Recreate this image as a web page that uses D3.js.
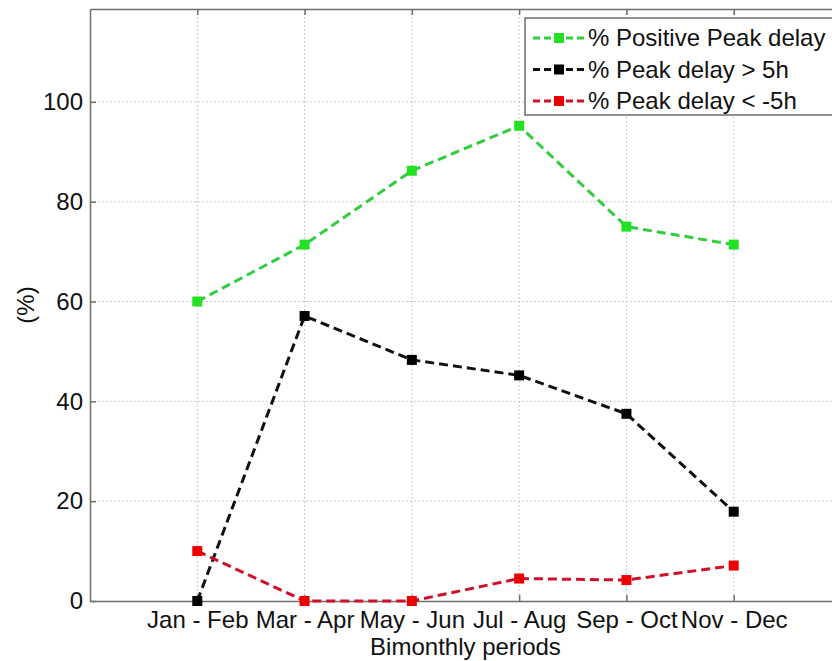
<!DOCTYPE html>
<html>
<head>
<meta charset="UTF-8" />
<script src="https://cdn.jsdelivr.net/npm/d3@7"></script>
<style>
  body { margin: 0; background: #fff; }
  svg { display: block; font-family: "Liberation Sans", Arial, sans-serif; }
  .grid line { stroke: #b8b8b8; stroke-width: 1; stroke-dasharray: 1.5 2.5; }
  .axis path, .axis line { stroke: #6e6e6e; stroke-width: 1.5; }
  .axis text { fill: #111; font-size: 24px; }
</style>
</head>
<body>
<svg width="832" height="661"></svg>
<script>
const periods = ['Jan - Feb', 'Mar - Apr', 'May - Jun', 'Jul - Aug', 'Sep - Oct', 'Nov - Dec'];
const positiveDelay = [60, 71.4, 86.2, 95.2, 75, 71.4];
const delayOver5h = [0, 57.1, 48.3, 45.2, 37.5, 17.9];
const delayUnderMinus5h = [10, 0, 0, 4.5, 4.2, 7.1];
const yTicks = [0, 20, 40, 60, 80, 100];

const series = [
  { name: '% Positive Peak delay', values: positiveDelay, color: '#22e022', line: '#33cc40' },
  { name: '% Peak delay > 5h', values: delayOver5h, color: '#000', line: '#111' },
  { name: '% Peak delay < -5h', values: delayUnderMinus5h, color: '#ee0000', line: '#d0102a' }
];

const svg = d3.select('svg');
const plotLeft = 90, plotRight = 841, plotTop = 9, plotBottom = 601;

const x = d3.scaleLinear().domain([0, periods.length + 1]).range([plotLeft, plotRight]);
const y = d3.scaleLinear().domain([0, 118.6]).range([plotBottom, plotTop]);
const idx = d3.range(1, periods.length + 1);

// grid
const grid = svg.append('g').attr('class', 'grid');
grid.selectAll('.v').data(idx).enter().append('line')
  .attr('x1', d => x(d)).attr('x2', d => x(d)).attr('y1', plotTop).attr('y2', plotBottom);
grid.selectAll('.h').data(yTicks.slice(1)).enter().append('line')
  .attr('x1', plotLeft).attr('x2', plotRight).attr('y1', d => y(d)).attr('y2', d => y(d));

// axes (box)
svg.append('g').attr('class', 'axis')
  .attr('transform', `translate(0,${plotBottom})`)
  .call(d3.axisBottom(x).tickValues(idx).tickFormat(d => periods[d - 1])
    .tickSizeInner(-6).tickSizeOuter(0).tickPadding(10));
svg.append('g').attr('class', 'axis')
  .attr('transform', `translate(0,${plotTop})`)
  .call(d3.axisTop(x).tickValues(idx).tickFormat('')
    .tickSizeInner(-6).tickSizeOuter(0));
svg.append('g').attr('class', 'axis')
  .attr('transform', `translate(${plotLeft},0)`)
  .call(d3.axisLeft(y).tickValues(yTicks).tickSizeInner(-6).tickSizeOuter(0).tickPadding(7));
svg.append('g').attr('class', 'axis')
  .attr('transform', `translate(${plotRight},0)`)
  .call(d3.axisRight(y).tickValues(yTicks).tickFormat('').tickSizeInner(-6).tickSizeOuter(0));

// axis labels
svg.append('text')
  .attr('x', (plotLeft + plotRight) / 2).attr('y', 655)
  .attr('text-anchor', 'middle').attr('font-size', 24).attr('fill', '#111')
  .text('Bimonthly periods');
svg.append('text')
  .attr('transform', `translate(34,${(plotTop + plotBottom) / 2}) rotate(-90)`)
  .attr('text-anchor', 'middle').attr('font-size', 24).attr('fill', '#111')
  .text('(%)');

// lines and markers
const line = d3.line().x((d, i) => x(i + 1)).y(d => y(d));
series.forEach(s => {
  svg.append('path')
    .attr('d', line(s.values))
    .attr('fill', 'none')
    .attr('stroke', s.line)
    .attr('stroke-width', 3)
    .attr('stroke-dasharray', '9 5');
  svg.selectAll(null).data(s.values).enter().append('rect')
    .attr('x', (d, i) => x(i + 1) - 5).attr('y', d => y(d) - 5)
    .attr('width', 10).attr('height', 10)
    .attr('fill', s.color);
});

// legend
const lg = svg.append('g');
lg.append('rect')
  .attr('x', 525).attr('y', 18).attr('width', 312).attr('height', 97)
  .attr('fill', '#fff').attr('stroke', '#6e6e6e').attr('stroke-width', 1.5);
series.forEach((s, i) => {
  const cy = 38 + i * 31.5;
  lg.append('line')
    .attr('x1', 533).attr('x2', 585).attr('y1', cy).attr('y2', cy)
    .attr('stroke', s.line).attr('stroke-width', 3).attr('stroke-dasharray', '7 4');
  lg.append('rect')
    .attr('x', 554).attr('y', cy - 5).attr('width', 10).attr('height', 10)
    .attr('fill', s.color);
  lg.append('text')
    .attr('x', 588).attr('y', cy + 8)
    .attr('font-size', 24).attr('fill', '#111')
    .text(s.name);
});
</script>
</body>
</html>
